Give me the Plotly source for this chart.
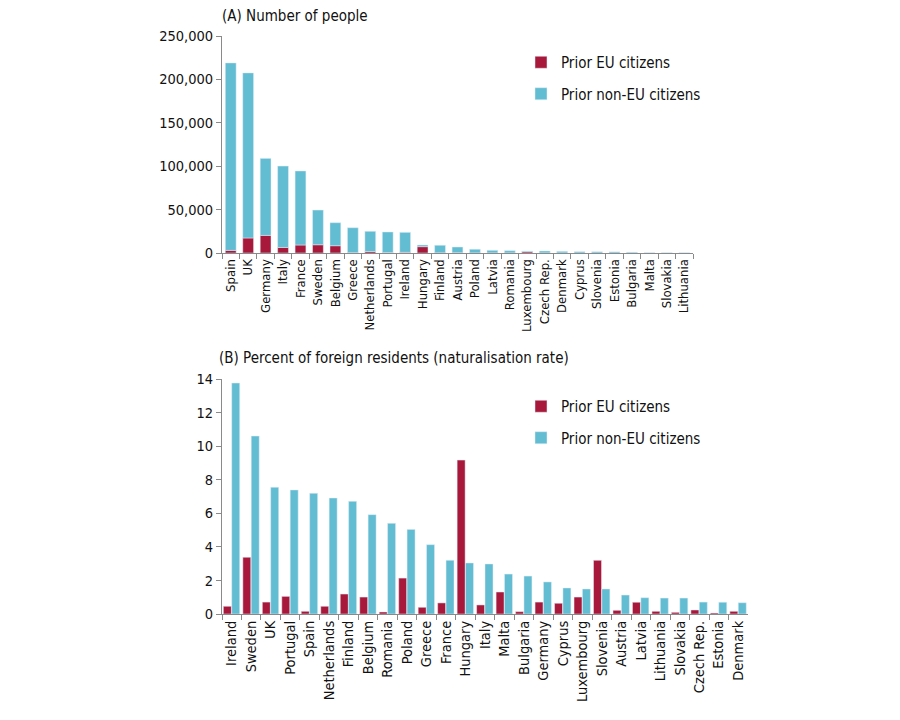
import plotly.graph_objects as go

# ---- Panel A: number of people ----
countries_a = ["Spain", "UK", "Germany", "Italy", "France", "Sweden", "Belgium", "Greece",
               "Netherlands", "Portugal", "Ireland", "Hungary", "Finland", "Austria", "Poland",
               "Latvia", "Romania", "Luxembourg", "Czech Rep.", "Denmark", "Cyprus", "Slovenia",
               "Estonia", "Bulgaria", "Malta", "Slovakia", "Lithuania"]
total_a = [219000, 207500, 109000, 100200, 94500, 49500, 34900, 29100,
           25000, 24200, 23800, 9200, 8900, 6900, 4300,
           3100, 2700, 2300, 2300, 1900, 1500, 1400,
           1300, 900, 300, 250, 200]
eu_a = [3000, 17300, 20300, 6400, 9200, 9500, 8400, 300,
        1800, 400, 800, 7300, 200, 300, 100,
        100, 100, 1500, 100, 100, 50, 50,
        50, 50, 20, 20, 20]
noneu_a = [t - e for t, e in zip(total_a, eu_a)]

# ---- Panel B: naturalisation rate (%) ----
countries_b = ["Ireland", "Sweden", "UK", "Portugal", "Spain", "Netherlands", "Finland",
               "Belgium", "Romania", "Poland", "Greece", "France", "Hungary", "Italy", "Malta",
               "Bulgaria", "Germany", "Cyprus", "Luxembourg", "Slovenia", "Austria", "Latvia",
               "Lithuania", "Slovakia", "Czech Rep.", "Estonia", "Denmark"]
eu_b = [0.46, 3.38, 0.71, 1.05, 0.16, 0.46, 1.19, 1.01, 0.12, 2.14, 0.40, 0.66, 9.17, 0.54,
        1.31, 0.14, 0.71, 0.64, 1.01, 3.20, 0.22, 0.70, 0.16, 0.10, 0.24, 0.06, 0.16]
noneu_b = [13.76, 10.6, 7.55, 7.39, 7.19, 6.91, 6.71, 5.92, 5.40, 5.04, 4.13, 3.20, 3.04, 2.98,
           2.38, 2.26, 1.91, 1.55, 1.49, 1.49, 1.13, 0.97, 0.95, 0.95, 0.71, 0.70, 0.67]

RED = "#A8183B"
BLUE = "#62BCD2"
FONT = "DejaVu Sans Condensed, sans-serif"
AXC = "#8a8a8a"

fig = go.Figure()
# Panel A: stacked (blue sits on top of red via base)
fig.add_trace(go.Bar(x=countries_a, y=eu_a, name="Prior EU citizens", marker_color=RED,
                     xaxis="x", yaxis="y", legend="legend", legendgroup="a1"))
fig.add_trace(go.Bar(x=countries_a, y=noneu_a, base=eu_a, name="Prior non-EU citizens",
                     marker_color=BLUE, xaxis="x", yaxis="y", legend="legend",
                     legendgroup="a2"))
# Panel B: side by side
fig.add_trace(go.Bar(x=countries_b, y=eu_b, name="Prior EU citizens", marker_color=RED,
                     xaxis="x2", yaxis="y2", legend="legend2", legendgroup="b1",
                     width=0.41, offset=-0.43))
fig.add_trace(go.Bar(x=countries_b, y=noneu_b, name="Prior non-EU citizens", marker_color=BLUE,
                     xaxis="x2", yaxis="y2", legend="legend2", legendgroup="b2",
                     width=0.41, offset=0.0))

# page has an 8px body margin; the figure starts at (8, 8) on screen
OFF = 8
W, H = 900 - OFF, 720 - OFF
def px(x):
    return (x - OFF) / W
def py(y):
    return 1 - (y - OFF) / H

axis_common = dict(showline=True, linecolor=AXC, linewidth=1, ticks="outside",
                   tickcolor=AXC, ticklen=5, showgrid=False, zeroline=False,
                   automargin=False)

fig.update_layout(
    width=W, height=H,
    margin=dict(l=0, r=0, t=0, b=0),
    paper_bgcolor="white", plot_bgcolor="rgba(0,0,0,0)",
    font=dict(family=FONT, size=14, color="#111"),
    barmode="overlay",
    bargap=0.38,
    xaxis=dict(domain=[px(222), px(693)], anchor="y", tickangle=-90, tickson="boundaries",
               tickfont=dict(size=13), **axis_common),
    yaxis=dict(domain=[py(253), py(36)], anchor="x", range=[0, 250000], dtick=50000,
               tickformat=",", tickfont=dict(size=14.5), **axis_common),
    xaxis2=dict(domain=[px(222), px(748)], anchor="y2", tickangle=-90, tickson="boundaries",
                tickfont=dict(size=14.5), **axis_common),
    yaxis2=dict(domain=[py(614), py(379)], anchor="x2", range=[0, 14], dtick=2,
                tickfont=dict(size=14.5), **axis_common),
    legend=dict(x=px(521), y=py(46), xanchor="left", yanchor="top",
                bgcolor="rgba(0,0,0,0)", tracegroupgap=9, font=dict(size=15)),
    legend2=dict(x=px(521), y=py(390), xanchor="left", yanchor="top",
                 bgcolor="rgba(0,0,0,0)", tracegroupgap=9, font=dict(size=15)),
    annotations=[
        dict(text="(A) Number of people", x=px(221), y=1.0, xref="paper", yref="paper",
             xanchor="left", yanchor="top", showarrow=False, font=dict(size=15),
             borderpad=0, yshift=2),
        dict(text="(B) Percent of foreign residents (naturalisation rate)", x=px(217),
             y=py(358), xref="paper", yref="paper", xanchor="left", yanchor="middle",
             showarrow=False, font=dict(size=15)),
    ],
)

fig.write_html("out.html")
